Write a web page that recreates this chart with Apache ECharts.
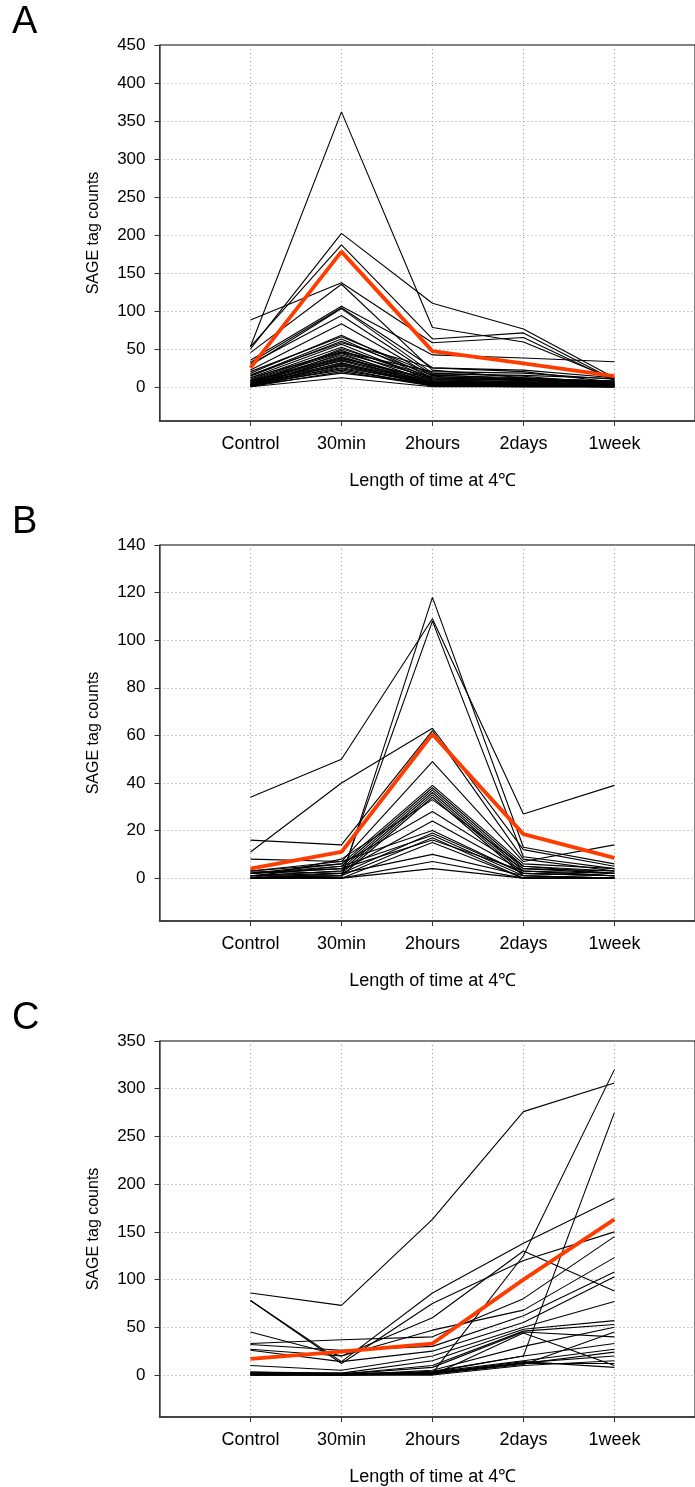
<!DOCTYPE html>
<html>
<head>
<meta charset="utf-8">
<title>SAGE tag counts</title>
<script src="https://cdn.jsdelivr.net/npm/echarts@6/dist/echarts.min.js"></script>
<style>
html, body { margin: 0; padding: 0; background: #fff; }
#main { width: 695px; height: 1487px; }
</style>
</head>
<body>
<div id="main"></div>
<script>
// time points (x positions 1..5)
const categories = ["Control", "30min", "2hours", "2days", "1week"];

// y tick labels per panel
const ticksA = [0, 50, 100, 150, 200, 250, 300, 350, 400, 450];
const ticksB = [0, 20, 40, 60, 80, 100, 120, 140];
const ticksC = [0, 50, 100, 150, 200, 250, 300, 350];

// panel A: tags peaking at 30min
const linesA = [
  [53, 362, 78, 59, 10],
  [50, 202, 110, 76, 12],
  [53, 187, 63, 71, 9],
  [88, 137, 58, 65, 8],
  [45, 135, 22, 12, 5],
  [35, 106, 42, 38, 33],
  [32, 104, 25, 20, 6],
  [28, 103, 18, 14, 4],
  [30, 94, 16, 10, 3],
  [22, 83, 14, 9, 5],
  [18, 68, 12, 8, 4],
  [15, 63, 10, 6, 2],
  [14, 60, 15, 12, 7],
  [12, 56, 8, 5, 2],
  [10, 52, 9, 7, 3],
  [9, 48, 6, 4, 1],
  [8, 45, 12, 9, 6],
  [7, 42, 7, 5, 2],
  [6, 40, 5, 3, 1],
  [6, 37, 11, 10, 4],
  [5, 34, 4, 2, 1],
  [5, 31, 6, 4, 2],
  [4, 28, 3, 2, 0],
  [4, 25, 5, 6, 3],
  [3, 22, 2, 1, 0],
  [2, 18, 4, 3, 1],
  [3, 50, 13, 11, 8],
  [2, 44, 3, 2, 1],
  [1, 39, 2, 1, 0],
  [2, 35, 7, 8, 5],
  [1, 32, 1, 0, 0],
  [1, 30, 3, 2, 1],
  [0, 27, 2, 1, 0],
  [1, 24, 1, 1, 0],
  [0, 20, 1, 0, 0],
  [12, 46, 20, 18, 10],
  [16, 58, 25, 22, 12],
  [20, 66, 17, 15, 11],
  [8, 38, 9, 11, 6],
  [3, 36, 4, 5, 2],
  [0, 12, 0, 0, 0],
  [2, 29, 5, 3, 2]
];
const meanA = [25, 178, 47, 31, 14];

// panel B: tags peaking at 2hours
const linesB = [
  [34, 50, 109, 27, 39],
  [1, 0, 118, 13, 6],
  [11, 40, 63, 12, 5],
  [0, 1, 108, 9, 4],
  [16, 14, 62, 8, 3],
  [8, 7, 49, 7, 14],
  [3, 6, 39, 6, 4],
  [2, 5, 38, 5, 3],
  [2, 4, 37, 4, 2],
  [1, 3, 36, 3, 1],
  [3, 2, 35, 2, 1],
  [1, 1, 34, 1, 0],
  [0, 8, 33, 5, 2],
  [2, 6, 28, 4, 3],
  [1, 3, 24, 3, 1],
  [0, 2, 19, 2, 1],
  [1, 5, 18, 1, 0],
  [0, 1, 17, 0, 0],
  [2, 4, 16, 3, 2],
  [0, 0, 15, 0, 0],
  [1, 2, 10, 1, 0],
  [0, 0, 7, 0, 0],
  [0, 0, 4, 0, 0],
  [3, 7, 20, 2, 1]
];
const meanB = [4, 11, 60.5, 18.5, 8.5];

// panel C: tags rising towards 1week
const linesC = [
  [86, 73, 163, 276, 306],
  [1, 0, 2, 125, 320],
  [2, 1, 3, 20, 275],
  [78, 14, 86, 138, 185],
  [78, 12, 75, 120, 150],
  [45, 20, 60, 130, 88],
  [33, 37, 40, 80, 145],
  [27, 20, 47, 68, 123],
  [32, 26, 30, 62, 108],
  [26, 14, 25, 55, 103],
  [10, 5, 20, 50, 77],
  [3, 2, 15, 48, 57],
  [2, 1, 10, 46, 53],
  [1, 1, 8, 45, 40],
  [0, 0, 5, 30, 50],
  [1, 0, 4, 20, 33],
  [0, 1, 3, 15, 27],
  [2, 2, 2, 12, 24],
  [0, 0, 1, 13, 20],
  [1, 0, 0, 10, 15],
  [0, 0, 1, 12, 12],
  [3, 1, 2, 14, 8],
  [1, 1, 1, 11, 45],
  [0, 0, 0, 44, 10]
];
const meanC = [17, 24.5, 33, 100, 163];

const FONT = "Liberation Sans";
const GRID_TOPS = [45, 545, 1041];
// plot box runs past the right edge of the page, so x stops short of 6
const X_MAX = 5.886;

let chart = echarts.init(document.getElementById("main"), null, { renderer: "canvas" });

function toPoints(vals) {
  return vals.map((v, i) => [i + 1, v]);
}

function panelSeries(lines, mean, idx) {
  let out = lines.map(vals => ({
    type: "line",
    xAxisIndex: idx,
    yAxisIndex: idx,
    data: toPoints(vals),
    symbol: "none",
    silent: true,
    lineStyle: { color: "#000", width: 1.1 },
    z: 2
  }));
  // average profile in red on top
  out.push({
    type: "line",
    xAxisIndex: idx,
    yAxisIndex: idx,
    data: toPoints(mean),
    symbol: "none",
    silent: true,
    lineStyle: { color: "#ff3c00", width: 3.8 },
    z: 3
  });
  return out;
}

function xAxisFor(idx) {
  return {
    type: "value",
    gridIndex: idx,
    min: 0,
    max: X_MAX,
    name: "Length of time at 4\u2103",
    nameLocation: "middle",
    nameGap: 51,
    // nudge right so it sits under 2hours (x = 3)
    nameTextStyle: { fontFamily: FONT, fontSize: 18, color: "#000", padding: [0, 0, 0, 11] },
    axisLine: { show: true, onZero: false, lineStyle: { color: "#333", width: 1.5 } },
    axisTick: { show: true, length: 5, customValues: [1, 2, 3, 4, 5], lineStyle: { color: "#333" } },
    axisLabel: {
      customValues: [1, 2, 3, 4, 5],
      margin: 14,
      fontFamily: FONT,
      fontSize: 18,
      color: "#000",
      formatter: v => categories[v - 1] || ""
    },
    splitLine: { show: true, lineStyle: { color: "#999", width: 1, type: [1, 3] } }
  };
}

function yAxisFor(idx, min, max, ticks) {
  return {
    type: "value",
    gridIndex: idx,
    min: min,
    max: max,
    name: "SAGE tag counts",
    nameLocation: "middle",
    nameGap: 58,
    nameTextStyle: { fontFamily: FONT, fontSize: 16, color: "#000" },
    axisLine: { show: true, onZero: false, lineStyle: { color: "#444", width: 1.5 } },
    axisTick: { show: true, length: 5, customValues: ticks, lineStyle: { color: "#333" } },
    axisLabel: { customValues: ticks, margin: 14, fontFamily: FONT, fontSize: 17, color: "#000" },
    splitLine: { show: true, lineStyle: { color: "#999", width: 1, type: [1, 3] } }
  };
}

let option = {
  animation: false,
  backgroundColor: "#fff",
  grid: GRID_TOPS.map(t => ({
    left: 159.5,
    top: t,
    width: 536.5,
    height: 376,
    show: true,
    borderColor: "#000",
    borderWidth: 1,
    backgroundColor: "transparent"
  })),
  xAxis: [xAxisFor(0), xAxisFor(1), xAxisFor(2)],
  yAxis: [
    yAxisFor(0, -45, 450, ticksA),
    yAxisFor(1, -18, 140, ticksB),
    yAxisFor(2, -44, 350, ticksC)
  ],
  // panel letters
  graphic: ["A", "B", "C"].map((s, i) => ({
    type: "text",
    left: 12,
    top: [4, 504, 1000][i],
    style: { text: s, fontFamily: FONT, fontSize: 38, fill: "#000" }
  })),
  series: [].concat(
    panelSeries(linesA, meanA, 0),
    panelSeries(linesB, meanB, 1),
    panelSeries(linesC, meanC, 2)
  )
};

chart.setOption(option);
</script>
</body>
</html>
